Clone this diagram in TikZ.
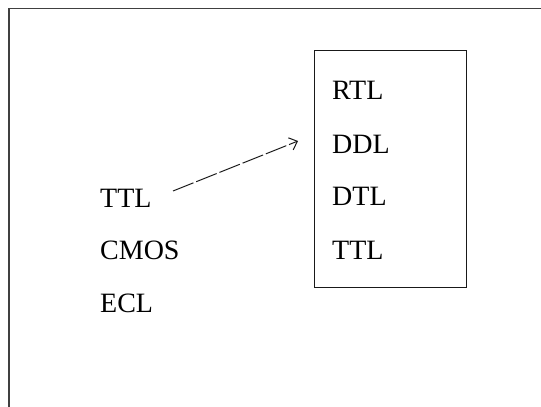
\documentclass[tikz,border=0pt]{standalone}
\usepackage{fontspec}
\setmainfont{Liberation Serif}
\usetikzlibrary{arrows.meta}
\begin{document}
\begin{tikzpicture}[x=1pt,y=-1pt,
  lbl/.style={anchor=base west,inner sep=0pt,font=\fontsize{28}{30}\selectfont,text=black},
  frame/.style={draw=black!75,line width=1.3pt},
  boxline/.style={draw=black!90,line width=1.4pt},
  conn/.style={draw=black!90,line width=1pt,dash pattern=on 22pt off 3pt,-{Straight Barb[length=7pt,width=13pt]}}]
\useasboundingbox (0,0) rectangle (541,407);
\fill[white] (0,0) rectangle (541,407);
\draw[frame] (9,407) -- (9,8.5) -- (541,8.5);
\node[boxline,draw,minimum width=152pt,minimum height=237pt,anchor=north west,inner sep=0pt] (box) at (314,50) {};
\node[lbl] (ttl) at (100,207) {TTL};
\node[lbl] (cmos) at (100,259) {CMOS};
\node[lbl] (ecl) at (100,312) {ECL};
\node[lbl] (rtl) at (332,99) {RTL};
\node[lbl] (ddl) at (332,153) {DDL};
\node[lbl] (dtl) at (332,205) {DTL};
\node[lbl] (ttlb) at (332,259) {TTL};
\coordinate (s) at (173,191);
\coordinate (e) at (298,141);
\draw[conn] (s) -- (e);
\end{tikzpicture}
\end{document}
